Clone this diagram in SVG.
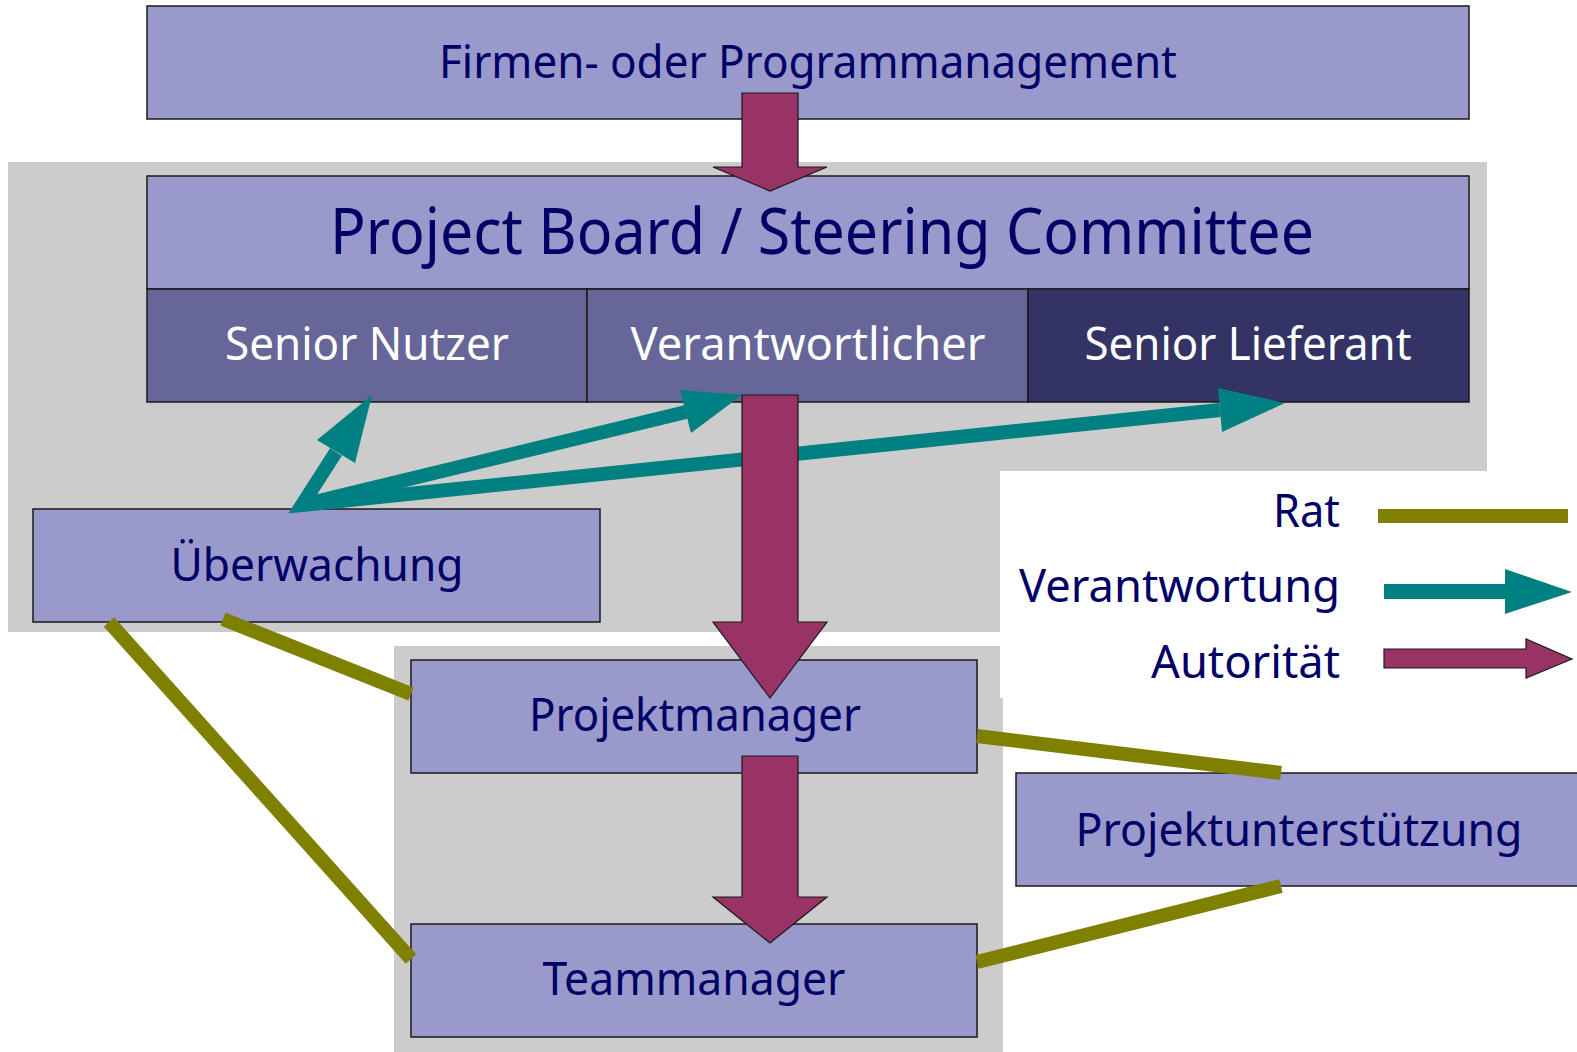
<svg xmlns="http://www.w3.org/2000/svg" width="1577" height="1052" viewBox="0 0 1577 1052">
<style>
.bg{fill:#cccccc}
.box{fill:#9999cc;stroke:#1a1a1a;stroke-width:1.5}
.mid{fill:#666699;stroke:#1a1a1a;stroke-width:1.5}
.dark{fill:#333366;stroke:#1a1a1a;stroke-width:1.5}
.t{font-family:"Noto Sans","Open Sans","DejaVu Sans",sans-serif;fill:#000066;text-anchor:middle}
.w{fill:#ffffff}
.auth{fill:#993366;stroke:#1a1a1a;stroke-width:1.2;stroke-linejoin:miter}
.resp{fill:none;stroke:#008080;stroke-width:14;stroke-linejoin:miter;stroke-linecap:butt}
.head{fill:#008080}
.adv{fill:none;stroke:#808000;stroke-width:14;stroke-linecap:butt}
</style>
<rect width="1577" height="1052" fill="#ffffff"/>
<g id="background">
<path class="bg" d="M8,162 H1487 V471 H1000 V632 H8 Z"/>
<path class="bg" d="M394,646 H1000 V698 H1003 V1052 H394 Z"/>
</g>
<g id="firmen">
<rect class="box" x="147" y="6" width="1322" height="113"/>
<text class="t" x="808" y="78" font-size="46" textLength="738" lengthAdjust="spacingAndGlyphs">Firmen- oder Programmanagement</text>
</g>
<g id="board">
<rect class="box" x="147" y="176" width="1322" height="113"/>
<text class="t" x="822" y="254" font-size="64" textLength="984" lengthAdjust="spacingAndGlyphs">Project Board / Steering Committee</text>
</g>
<g id="senior-nutzer">
<rect class="mid" x="147" y="289" width="440" height="113"/>
<text class="t w" x="367" y="360" font-size="46" textLength="284" lengthAdjust="spacingAndGlyphs">Senior Nutzer</text>
</g>
<g id="verantwortlicher">
<rect class="mid" x="587" y="289" width="441" height="113"/>
<text class="t w" x="808" y="360" font-size="46" textLength="355" lengthAdjust="spacingAndGlyphs">Verantwortlicher</text>
</g>
<g id="senior-lieferant">
<rect class="dark" x="1028" y="289" width="441" height="113"/>
<text class="t w" x="1248" y="360" font-size="46" textLength="327" lengthAdjust="spacingAndGlyphs">Senior Lieferant</text>
</g>
<g id="ueberwachung">
<rect class="box" x="33" y="509" width="567" height="113"/>
<text class="t" x="317" y="581" font-size="46" textLength="293" lengthAdjust="spacingAndGlyphs">Überwachung</text>
</g>
<g id="projektmanager">
<rect class="box" x="411" y="660" width="566" height="113"/>
<text class="t" x="695" y="731" font-size="46" textLength="332" lengthAdjust="spacingAndGlyphs">Projektmanager</text>
</g>
<g id="teammanager">
<rect class="box" x="411" y="924" width="566" height="113"/>
<text class="t" x="694" y="995" font-size="46" textLength="303" lengthAdjust="spacingAndGlyphs">Teammanager</text>
</g>
<g id="projektunterstuetzung">
<rect class="box" x="1016" y="773" width="570" height="113"/>
<text class="t" x="1299" y="846" font-size="46" textLength="447" lengthAdjust="spacingAndGlyphs">Projektunterstützung</text>
</g>
<g id="connectors">
<line class="adv" x1="109" y1="622" x2="411" y2="959"/>
<line class="adv" x1="223" y1="619" x2="411" y2="694"/>
<line class="adv" x1="977" y1="736" x2="1281" y2="773"/>
<line class="adv" x1="977" y1="962" x2="1281" y2="886"/>
<path class="resp" d="M336,452 L302,505 L1220,410"/>
<path class="resp" d="M302,505 L686,412"/>
<polygon class="head" points="317,440 372,395 355,463"/>
<polygon class="head" points="680,390 742,395 691,433"/>
<polygon class="head" points="1218,388 1285,403 1222,432"/>
<polygon class="auth" points="742,93 798,93 798,167 827,167 770,191 713,167 742,167"/>
<polygon class="auth" points="742,395 798,395 798,622 827,622 770,698 713,622 742,622"/>
<polygon class="auth" points="742,756 798,756 798,897 827,897 770,943 713,897 742,897"/>
</g>
<g id="legend">
<text class="t" x="1340" y="527" font-size="46" style="text-anchor:end" textLength="67" lengthAdjust="spacingAndGlyphs">Rat</text>
<rect x="1378" y="509" width="190" height="14" fill="#808000"/>
<text class="t" x="1340" y="602" font-size="46" style="text-anchor:end" textLength="321" lengthAdjust="spacingAndGlyphs">Verantwortung</text>
<polygon class="head" points="1384,584 1505,584 1505,569 1572,592 1505,614 1505,599 1384,599"/>
<text class="t" x="1340" y="678" font-size="46" style="text-anchor:end" textLength="189" lengthAdjust="spacingAndGlyphs">Autorität</text>
<polygon class="auth" points="1384,649 1526,649 1526,639 1572,659 1526,678 1526,668 1384,668"/>
</g>
</svg>
